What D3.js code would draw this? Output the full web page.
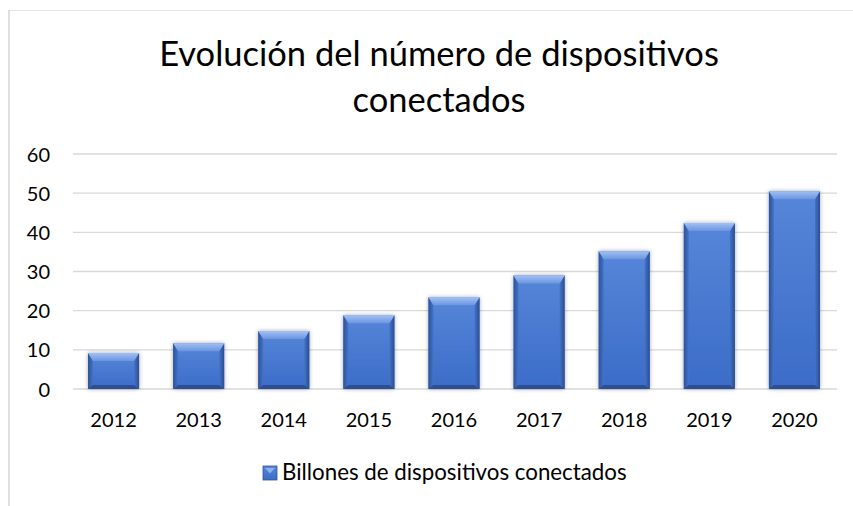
<!DOCTYPE html>
<html>
<head>
<meta charset="utf-8">
<script src="https://cdn.jsdelivr.net/npm/d3@7/dist/d3.min.js"></script>
<style>
  html, body { margin: 0; padding: 0; background: #fff; }
  svg { display: block; }
  text { font-family: Lato, "Open Sans", sans-serif; fill: #000; }
</style>
</head>
<body>
<svg id="chart" width="853" height="506"></svg>
<script>
const categories = ["2012", "2013", "2014", "2015", "2016", "2017", "2018", "2019", "2020"];
const values = [9.2, 11.7, 14.8, 18.8, 23.4, 29.0, 35.2, 42.4, 50.5];
const yTicks = [0, 10, 20, 30, 40, 50, 60];
const seriesName = "Billones de dispositivos conectados";
const titleLines = ["Evolución del número de dispositivos", "conectados"];

const svg = d3.select("#chart");
const W = 853, H = 506;
const plot = { left: 71, right: 837, top: 154, bottom: 389 };

// chart border (partially visible in the crop)
svg.append("line").attr("x1", 9).attr("x2", W).attr("y1", 10.5).attr("y2", 10.5)
  .attr("stroke", "#e4e4e4").attr("stroke-width", 1.2);
svg.append("line").attr("x1", 9).attr("x2", 9).attr("y1", 10).attr("y2", H)
  .attr("stroke", "#d6d6d6").attr("stroke-width", 1.5);

const defs = svg.append("defs");
const g1 = defs.append("linearGradient").attr("id", "bodyGrad").attr("x1", 0).attr("x2", 0).attr("y1", 0).attr("y2", 1);
g1.append("stop").attr("offset", "0%").attr("stop-color", "#5586d8");
g1.append("stop").attr("offset", "100%").attr("stop-color", "#3b6cc8");
const g2 = defs.append("linearGradient").attr("id", "topGrad").attr("x1", 0).attr("x2", 0).attr("y1", 0).attr("y2", 1);
g2.append("stop").attr("offset", "0%").attr("stop-color", "#a2c1f4");
g2.append("stop").attr("offset", "100%").attr("stop-color", "#6a95e0");
const g3 = defs.append("linearGradient").attr("id", "leftGrad").attr("x1", 0).attr("x2", 1).attr("y1", 0).attr("y2", 0);
g3.append("stop").attr("offset", "0%").attr("stop-color", "#2d5299");
g3.append("stop").attr("offset", "100%").attr("stop-color", "#4473c8");
const g4 = defs.append("linearGradient").attr("id", "rightGrad").attr("x1", 0).attr("x2", 1).attr("y1", 0).attr("y2", 0);
g4.append("stop").attr("offset", "0%").attr("stop-color", "#4473c8");
g4.append("stop").attr("offset", "100%").attr("stop-color", "#2a4d91");
const f = defs.append("filter").attr("id", "shadow").attr("x", "-30%").attr("y", "-10%").attr("width", "160%").attr("height", "120%");
f.append("feDropShadow").attr("dx", 0).attr("dy", 0).attr("stdDeviation", 2.2)
  .attr("flood-color", "#000").attr("flood-opacity", 0.35);

// title
const title = svg.append("text").attr("text-anchor", "middle").attr("font-size", 34.5);
title.selectAll("tspan").data(titleLines).join("tspan")
  .attr("x", 439).attr("y", (d, i) => 66 + i * 46).text(d => d);

const x = d3.scaleBand().domain(categories).range([plot.left, plot.right]).paddingInner(0.4).paddingOuter(0.2);
const y = d3.scaleLinear().domain([0, 60]).range([plot.bottom, plot.top]);

// gridlines
svg.append("g").selectAll("line").data(yTicks).join("line")
  .attr("x1", 73).attr("x2", plot.right)
  .attr("y1", d => y(d)).attr("y2", d => y(d))
  .attr("stroke", "#d9d9d9").attr("stroke-width", 1.4);

// y axis labels
const yAxis = d3.axisLeft(y).tickValues(yTicks).tickSize(0).tickPadding(0).tickFormat(d3.format("d"));
const ya = svg.append("g").attr("transform", "translate(50,0)").call(yAxis);
ya.select(".domain").remove();
ya.selectAll("text").attr("font-size", 20).attr("font-family", "Lato, sans-serif").attr("fill", "#000").attr("dy", "0.35em");

// x axis labels
const xAxis = d3.axisBottom(x).tickSize(0).tickPadding(0);
const xa = svg.append("g").attr("transform", "translate(0,412)").call(xAxis);
xa.select(".domain").remove();
xa.selectAll("text").attr("font-size", 20).attr("font-family", "Lato, sans-serif").attr("fill", "#000").attr("dy", "0.75em");

// bars
const data = categories.map((c, i) => ({ c, v: values[i] }));
const bars = svg.append("g").selectAll("g").data(data).join("g");
const bw = x.bandwidth();
bars.append("rect")
  .attr("x", d => x(d.c)).attr("y", d => y(d.v))
  .attr("width", bw).attr("height", d => y(0) - y(d.v))
  .attr("fill", "url(#bodyGrad)").attr("filter", "url(#shadow)");
const bev = 8, side = 5, bot = 4;
bars.append("path").attr("fill", "url(#leftGrad)")
  .attr("d", d => { const x0 = x(d.c), t = y(d.v), b = y(0);
    return `M${x0},${t}L${x0 + side},${t + bev}L${x0 + side},${b - bot}L${x0},${b}Z`; });
bars.append("path").attr("fill", "url(#rightGrad)")
  .attr("d", d => { const x1 = x(d.c) + bw, t = y(d.v), b = y(0);
    return `M${x1},${t}L${x1 - side},${t + bev}L${x1 - side},${b - bot}L${x1},${b}Z`; });
bars.append("path").attr("fill", "#2c4f93")
  .attr("d", d => { const x0 = x(d.c), x1 = x0 + bw, b = y(0);
    return `M${x0},${b}L${x0 + side},${b - bot}L${x1 - side},${b - bot}L${x1},${b}Z`; });
bars.append("path").attr("fill", "url(#topGrad)")
  .attr("d", d => { const x0 = x(d.c), x1 = x0 + bw, t = y(d.v);
    return `M${x0},${t}L${x1},${t}L${x1 - side},${t + bev}L${x0 + side},${t + bev}Z`; });

// legend
const lg = svg.append("g").attr("transform", "translate(263,466)");
lg.append("rect").attr("width", 14).attr("height", 14).attr("fill", "url(#bodyGrad)").attr("stroke", "#2f5597").attr("stroke-width", 0.8);
lg.append("path").attr("d", "M2,2L12,2L7,7.5Z").attr("fill", "#9dbdf2").attr("opacity", 0.8);
lg.append("text").attr("x", 19).attr("y", 14).attr("font-size", 22.3).text(seriesName);
</script>
</body>
</html>
